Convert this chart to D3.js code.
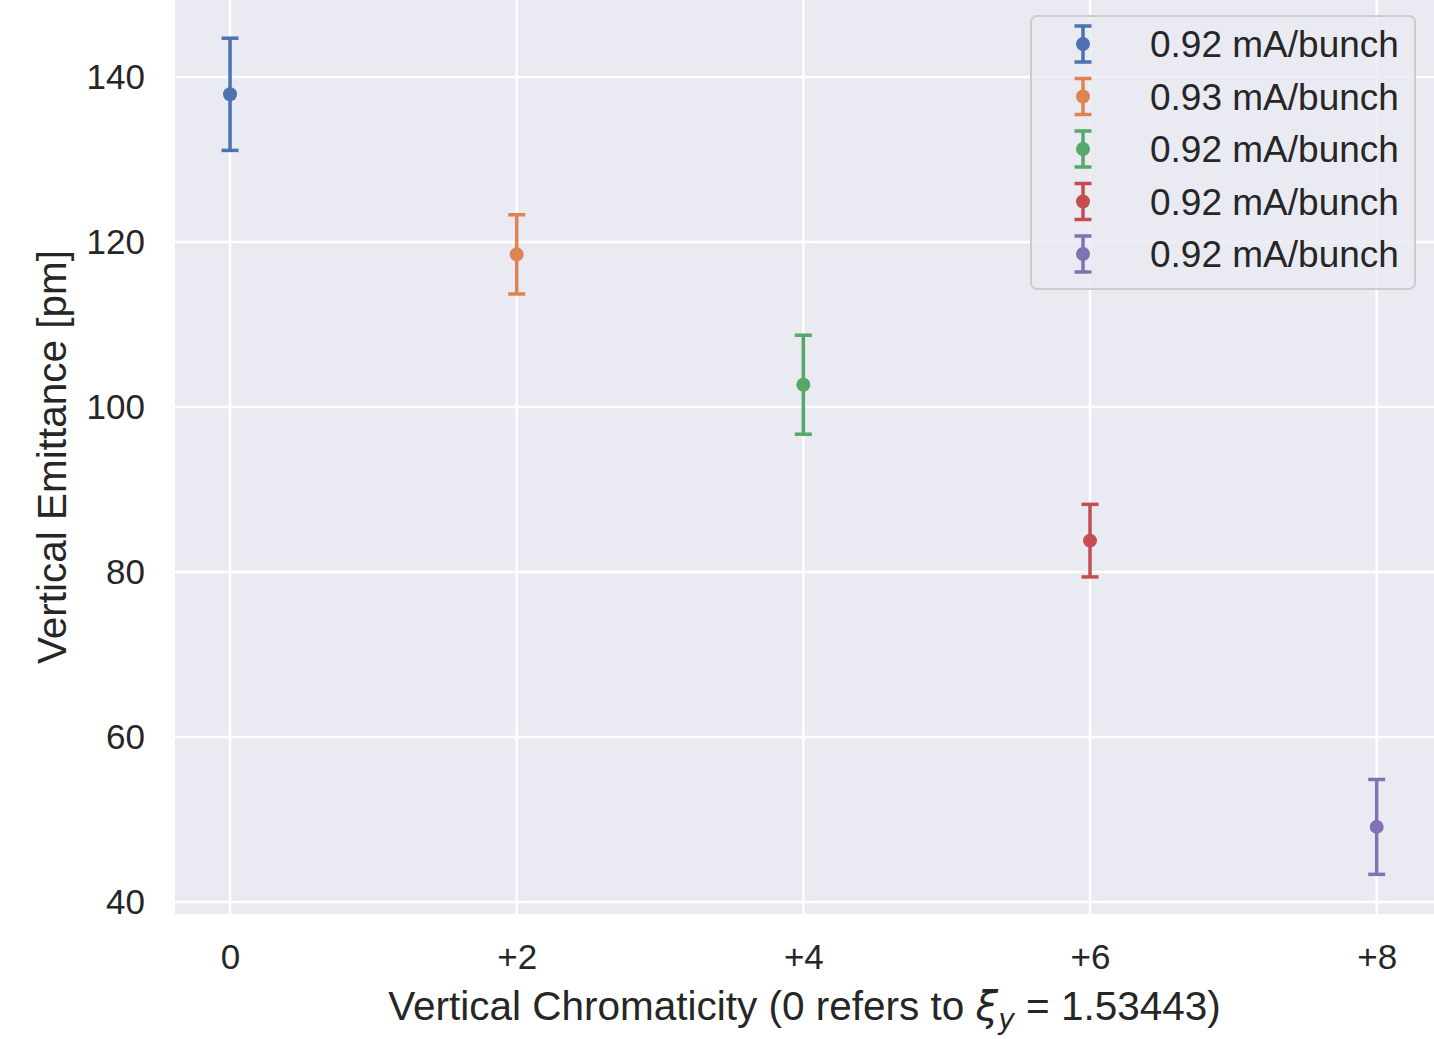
<!DOCTYPE html>
<html>
<head>
<meta charset="utf-8">
<script src="https://cdn.jsdelivr.net/npm/d3@7"></script>
<style>
  body { margin: 0; background: #fff; }
  text { font-family: "Liberation Sans", Arial, sans-serif; fill: #262626; }
</style>
</head>
<body>
<svg id="chart" width="1434" height="1039"></svg>
<script>
// chromaticity offsets, measured emittance and its error
var chroma = [0, 2, 4, 6, 8];
var emittance = [137.9, 118.5, 102.7, 83.8, 49.1];
var errors = [6.8, 4.8, 6.0, 4.4, 5.75];
var labels = ['0.92 mA/bunch', '0.93 mA/bunch', '0.92 mA/bunch', '0.92 mA/bunch', '0.92 mA/bunch'];
var colors = ['#4C72B0', '#DD8452', '#55A868', '#C44E52', '#8172B3'];
var xTicks = [0, 2, 4, 6, 8];
var xTickLabels = ['0', '+2', '+4', '+6', '+8'];
var yTicks = [40, 60, 80, 100, 120, 140];

(function () {
    var svg = d3.select('#chart');
    var left = 175, right = 1434, top = 0, bottom = 914;

    var x = d3.scaleLinear().domain([-0.384, 8.4]).range([left, right]);
    var y = d3.scaleLinear().domain([38.545, 149.33]).range([bottom, top]);

    svg.append('rect')
        .attr('x', left).attr('y', top)
        .attr('width', right - left).attr('height', bottom - top)
        .attr('fill', '#EAEAF2');

    // grid
    var g = svg.append('g');
    g.selectAll('.gx').data(xTicks).enter().append('line')
        .attr('x1', function (d) { return x(d); })
        .attr('x2', function (d) { return x(d); })
        .attr('y1', top).attr('y2', bottom)
        .attr('stroke', '#fff').attr('stroke-width', 2.5);
    g.selectAll('.gy').data(yTicks).enter().append('line')
        .attr('y1', function (d) { return y(d); })
        .attr('y2', function (d) { return y(d); })
        .attr('x1', left).attr('x2', right)
        .attr('stroke', '#fff').attr('stroke-width', 2.5);

    // axes (tick labels only, seaborn darkgrid)
    var xAxis = d3.axisBottom(x).tickValues(xTicks)
        .tickFormat(function (d, i) { return xTickLabels[i]; })
        .tickSize(0).tickPadding(30);
    svg.append('g').attr('transform', 'translate(0,' + bottom + ')').call(xAxis)
        .call(function (a) { a.select('.domain').remove(); })
        .selectAll('text')
        .attr('font-size', 35).attr('fill', '#262626')
        .style('font-family', '"Liberation Sans", Arial, sans-serif');

    var yAxis = d3.axisLeft(y).tickValues(yTicks).tickSize(0).tickPadding(30);
    svg.append('g').attr('transform', 'translate(' + left + ',0)').call(yAxis)
        .call(function (a) { a.select('.domain').remove(); })
        .selectAll('text')
        .attr('font-size', 35).attr('fill', '#262626')
        .style('font-family', '"Liberation Sans", Arial, sans-serif');

    // axis labels
    var xl = svg.append('text')
        .attr('x', (left + right) / 2).attr('y', 1020)
        .attr('text-anchor', 'middle').attr('font-size', 40.5);
    xl.append('tspan').text('Vertical Chromaticity (0 refers to ');
    xl.append('tspan').attr('font-style', 'italic')
        .style('font-family', '"DejaVu Sans", sans-serif').text('\u03BE');
    xl.append('tspan').attr('font-style', 'italic').attr('font-size', 28)
        .style('font-family', '"DejaVu Sans", sans-serif')
        .attr('dy', 9).text('y');
    xl.append('tspan').attr('dy', -9).text(' = 1.53443)');

    svg.append('text')
        .attr('transform', 'translate(66,' + (bottom / 2) + ') rotate(-90)')
        .attr('text-anchor', 'middle').attr('font-size', 40.5)
        .text('Vertical Emittance [pm]');

    // error bars
    var pts = chroma.map(function (c, i) {
        return { x: c, y: emittance[i], e: errors[i], color: colors[i] };
    });
    var eb = svg.append('g').selectAll('g').data(pts).enter().append('g');
    eb.append('line')
        .attr('x1', function (d) { return x(d.x); })
        .attr('x2', function (d) { return x(d.x); })
        .attr('y1', function (d) { return y(d.y - d.e); })
        .attr('y2', function (d) { return y(d.y + d.e); })
        .attr('stroke', function (d) { return d.color; }).attr('stroke-width', 3.5);
    [-1, 1].forEach(function (s) {
        eb.append('line')
            .attr('x1', function (d) { return x(d.x) - 8.5; })
            .attr('x2', function (d) { return x(d.x) + 8.5; })
            .attr('y1', function (d) { return y(d.y + s * d.e); })
            .attr('y2', function (d) { return y(d.y + s * d.e); })
            .attr('stroke', function (d) { return d.color; }).attr('stroke-width', 3.5);
    });
    eb.append('circle')
        .attr('cx', function (d) { return x(d.x); })
        .attr('cy', function (d) { return y(d.y); })
        .attr('r', 7)
        .attr('fill', function (d) { return d.color; });

    // legend
    var lg = svg.append('g');
    lg.append('rect')
        .attr('x', 1031).attr('y', 16).attr('width', 384).attr('height', 273)
        .attr('rx', 6).attr('ry', 6)
        .attr('fill', '#EAEAF2').attr('fill-opacity', 0.8)
        .attr('stroke', '#cccccc').attr('stroke-width', 2);
    var items = lg.selectAll('.item').data(labels).enter().append('g')
        .attr('transform', function (d, i) { return 'translate(1083,' + (44 + i * 52.5) + ')'; });
    items.append('line').attr('y1', -18).attr('y2', 18)
        .attr('stroke', function (d, i) { return colors[i]; }).attr('stroke-width', 3.5);
    items.append('line').attr('x1', -8.5).attr('x2', 8.5).attr('y1', -18).attr('y2', -18)
        .attr('stroke', function (d, i) { return colors[i]; }).attr('stroke-width', 3.5);
    items.append('line').attr('x1', -8.5).attr('x2', 8.5).attr('y1', 18).attr('y2', 18)
        .attr('stroke', function (d, i) { return colors[i]; }).attr('stroke-width', 3.5);
    items.append('circle').attr('r', 7)
        .attr('fill', function (d, i) { return colors[i]; });
    items.append('text')
        .attr('x', 67).attr('y', 13)
        .attr('font-size', 37)
        .text(function (d) { return d; });
})();
</script>
</body>
</html>
